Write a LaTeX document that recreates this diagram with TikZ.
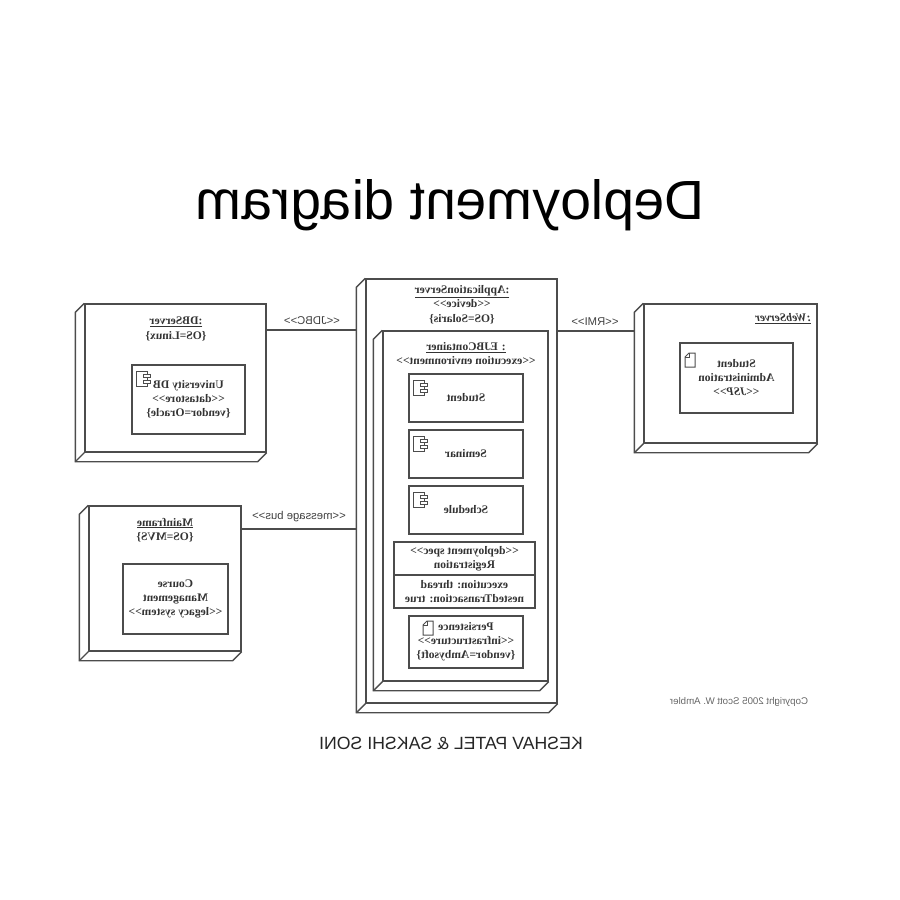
\documentclass[tikz,border=0pt]{standalone}
\usepackage{fontspec}
\setmainfont{Liberation Serif}
\newfontfamily\lsans{Liberation Sans}
\newcommand{\ster}[1]{<{}<#1>{}>}
\newcommand{\cube}[1]{%
\coordinate(#1s)at([shift={(-9,9)}]#1.north east);
\coordinate(#1t)at([shift={(-9,9)}]#1.south east);
\coordinate(#1u)at([shift={(-9,9)}]#1.south west);
\draw[ln](#1.north east)--(#1s)--(#1t)--(#1u)--(#1.south west);
\draw[ln](#1.south east)--(#1t);}
\tikzset{
compicon/.pic={
\draw[ic](0,0)rectangle(11,15);
\draw[ic,fill=white](7,3)rectangle(14,6);
\draw[ic,fill=white](7,9)rectangle(14,12);},
docicon/.pic={
\draw[ic](0,4)--(4,0)--(10,0)--(10,14)--(0,14)--cycle;
\draw[ic](4,0)--(4,4)--(0,4);}}
\begin{document}
\begin{tikzpicture}[x=-1pt,y=-1pt,xscale=-1,transform shape]
\definecolor{lc}{gray}{0.3}
\tikzstyle{ln} = [draw=lc,line width=1.4pt] %outline
\tikzstyle{ic} = [draw=lc,line width=1pt] %small icon
\tikzstyle{bx} = [ln,rectangle,inner sep=0pt,align=center,font=\fontsize{11.6}{14}\selectfont\bfseries,text=black!80] %box
\tikzstyle{tx} = [inner sep=0pt,align=center,font=\fontsize{11.6}{14.5}\selectfont\bfseries,text=black!80] %box title
\tikzstyle{cn} = [inner sep=0pt,font=\fontsize{11.3}{13}\selectfont\lsans,text=black!75] %connector label
\useasboundingbox(0,0)rectangle(900,900);
\node[inner sep=0pt,font=\fontsize{55.2}{60}\selectfont\lsans](title)at(450,205){Deployment diagram};
% nodes
\node[bx,minimum width=181,minimum height=148](dbf)at(175.5,378){};
\node[bx,minimum width=152,minimum height=145](mff)at(165,578.5){};
\node[bx,minimum width=191,minimum height=424](apf)at(461.5,491){};
\node[bx,minimum width=165,minimum height=350](ejf)at(465.5,506){};
\node[bx,minimum width=173,minimum height=139](wsf)at(730.5,373.5){};
\cube{dbf}
\cube{mff}
\cube{apf}
\cube{ejf}
\cube{wsf}
\node[tx](dbt)at(176,329){\underline{:DBServer}\\\{OS=Linux\}};
\node[tx](mft)at(165,530){\underline{Mainframe}\\\{OS=MVS\}};
\node[tx](apt)at(462,304.5){\underline{:ApplicationServer}\\\ster{device}\\\{OS=Solaris\}};
\node[tx](ejt)at(466,353.5){\underline{: EJBContainer}\\\ster{execution environment}};
\node[tx](wst)at(783,319){\underline{\itshape :WebServer}};
\node[bx,minimum width=113,minimum height=69](udb)at(188.5,399.5){University DB\\\ster{datastore}\\\{vendor=Oracle\}};
\node[bx,minimum width=105,minimum height=70](crs)at(175.5,599){Course\\Management\\\ster{legacy system}};
\node[bx,minimum width=114,minimum height=48](std)at(466,398){Student};
\node[bx,minimum width=114,minimum height=48](smn)at(466,454){Seminar};
\node[bx,minimum width=114,minimum height=48](sch)at(466,510){Schedule};
\node[bx,minimum width=141,minimum height=33](dsa)at(464.5,558.5){\ster{deployment spec}\\Registration};
\node[bx,minimum width=141,minimum height=33](dsb)at(464.5,591.5){execution: thread\\nestedTransaction: true};
\node[bx,minimum width=114,minimum height=52](prs)at(466,642){Persistence\\\ster{infrastructure}\\\{vendor=Ambysoft\}};
\node[bx,minimum width=113,minimum height=70](adm)at(736.5,378){Student\\Administration\\{\itshape\ster{JSP}}};
% icons
\pic at(136,371){compicon};
\pic at(413,380){compicon};
\pic at(413,436){compicon};
\pic at(413,492){compicon};
\pic at(423,621){docicon};
\pic at(685,353){docicon};
% connectors
\coordinate(jc)at(312,330);
\coordinate(mc)at(299,529);
\coordinate(rc)at(595,331);
\draw[ln](jc-|dbf.west)--(jc-|apfs);
\draw[ln](mc-|mff.west)--(mc-|apfs);
\draw[ln](rc-|apf.west)--(rc-|wsfs);
\node[cn](jl)at(312,321){\ster{JDBC}};
\node[cn](ml)at(299,517){\ster{message bus}};
\node[cn](rl)at(595,322){\ster{RMI}};
\node[inner sep=0pt,font=\fontsize{9.7}{11}\selectfont\lsans,text=black!60](cr)at(739,702){Copyright 2005 Scott W. Ambler};
\node[inner sep=0pt,font=\fontsize{17.7}{20}\selectfont\lsans,text=black!85](by)at(451,743){KESHAV PATEL \& SAKSHI SONI};
\end{tikzpicture}
\end{document}
